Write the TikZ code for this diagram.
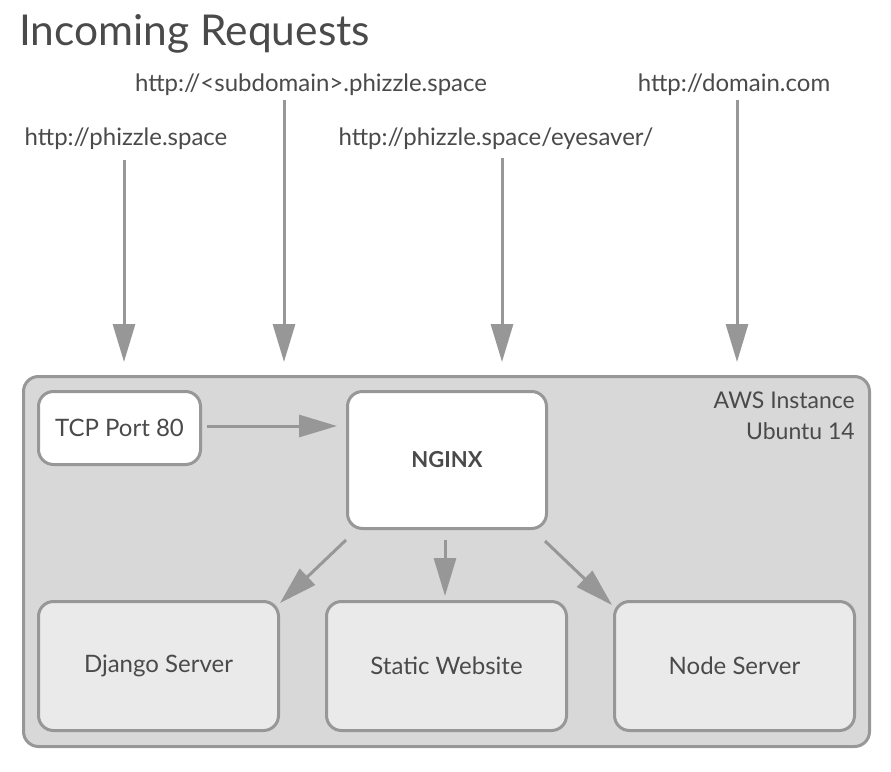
\documentclass[tikz,border=0pt]{standalone}
\usepackage{fontspec}
\setmainfont{Lato}
\usetikzlibrary{arrows.meta}
\definecolor{strk}{HTML}{979797}
\definecolor{outerfill}{HTML}{D8D8D8}
\definecolor{innerfill}{HTML}{EAEAEA}
\definecolor{txt}{HTML}{4A4A4A}
\tikzset{
  box/.style={draw=strk, line width=3pt, rounded corners=15pt, inner sep=0pt},
  whitebox/.style={box, fill=white},
  graybox/.style={box, fill=innerfill},
  arr/.style={draw=strk, line width=3pt, -{Triangle[length=38pt,width=22pt]}},
  lbl/.style={text=txt, font=\fontsize{24}{28}\selectfont, inner sep=0pt},
}
\begin{document}
\begin{tikzpicture}[x=1pt,y=-1pt]
\useasboundingbox (0,0) rectangle (891,771);
\node[text=txt, font=\fontsize{42.5}{50}\selectfont, anchor=base west, inner sep=0pt] (title) at (19,45) {Incoming Requests};
\node[lbl, anchor=base] (l1) at (311,91) {http://<subdomain>.phizzle.space};
\node[lbl, anchor=base] (l2) at (126,145) {http://phizzle.space};
\node[lbl, anchor=base] (l3) at (496,145) {http://phizzle.space/eyesaver/};
\node[lbl, anchor=base] (l4) at (734,91) {http://domain.com};
\node[box, fill=outerfill, minimum width=846pt, minimum height=370pt, anchor=north west] (aws) at (22,375) {};
\node[lbl, align=right, anchor=north east, font=\fontsize{23}{31}\selectfont] (awslbl) at (855,392) {AWS Instance\\Ubuntu 14};
\node[whitebox, minimum width=162pt, minimum height=73pt, anchor=north west, lbl, draw=strk] (tcp) at (37,390) {TCP Port 80};
\node[whitebox, minimum width=199pt, minimum height=137pt, anchor=north west, text=txt, font=\bfseries\fontsize{22}{26}\selectfont] (nginx) at (346,390) {NGINX};
\node[graybox, minimum width=240pt, minimum height=129pt, anchor=north west, lbl] (django) at (37,600) {Django Server};
\node[graybox, minimum width=240pt, minimum height=129pt, anchor=north west, lbl] (static) at (325,600) {Static Website};
\node[graybox, minimum width=240pt, minimum height=129pt, anchor=north west, lbl] (node) at (613,600) {Node Server};
\coordinate (a1s) at (124,160); \coordinate (a1e) at (124,362);
\coordinate (a2s) at (284,100); \coordinate (a2e) at (284,362);
\coordinate (a3s) at (502,158); \coordinate (a3e) at (502,362);
\coordinate (a4s) at (737,100); \coordinate (a4e) at (737,362);
\coordinate (n1) at (346,540); \coordinate (d1) at (280,603);
\coordinate (n2) at (445,540); \coordinate (s1) at (445,596);
\coordinate (n3) at (545,541); \coordinate (o1) at (612,605);
\coordinate (t1) at (207,426); \coordinate (t2) at (337,426);
\draw[arr] (a1s) -- (a1e);
\draw[arr] (a2s) -- (a2e);
\draw[arr] (a3s) -- (a3e);
\draw[arr] (a4s) -- (a4e);
\draw[arr] (t1) -- (t2);
\draw[arr] (n1) -- (d1);
\draw[arr] (n2) -- (s1);
\draw[arr] (n3) -- (o1);
\end{tikzpicture}
\end{document}
